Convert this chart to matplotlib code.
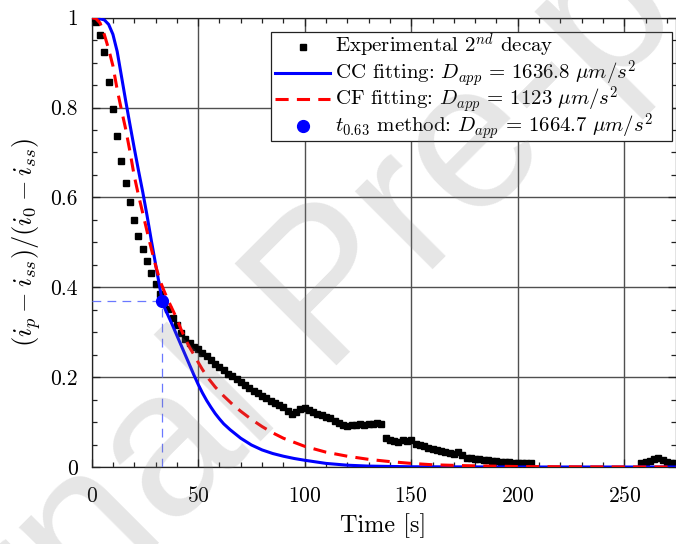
import numpy as np
import matplotlib
matplotlib.use("Agg")
import matplotlib.pyplot as plt
from matplotlib.patches import Rectangle
from matplotlib.ticker import MultipleLocator, FixedLocator, FixedFormatter

plt.rcParams['font.family'] = 'cmr10'
plt.rcParams['mathtext.fontset'] = 'cm'
plt.rcParams['axes.unicode_minus'] = False
plt.rcParams['axes.formatter.use_mathtext'] = True

# Experimental second decay (normalised current), sampled every 2 s
exp_time_a = np.arange(0, 208, 2)
exp_vals_a = [
    1.000, 0.990, 0.961, 0.923, 0.858, 0.796, 0.737, 0.682,
    0.631, 0.590, 0.550, 0.515, 0.486, 0.459, 0.431, 0.408,
    0.385, 0.368, 0.351, 0.331, 0.315, 0.298, 0.285, 0.276,
    0.268, 0.262, 0.254, 0.246, 0.238, 0.229, 0.222, 0.216,
    0.208, 0.202, 0.196, 0.189, 0.183, 0.176, 0.170, 0.164,
    0.158, 0.153, 0.148, 0.143, 0.138, 0.133, 0.125, 0.118,
    0.122, 0.130, 0.131, 0.127, 0.122, 0.118, 0.115, 0.112,
    0.108, 0.103, 0.097, 0.094, 0.092, 0.093, 0.094, 0.095,
    0.094, 0.096, 0.095, 0.097, 0.096, 0.064, 0.061, 0.058,
    0.056, 0.059, 0.057, 0.060, 0.052, 0.049, 0.046, 0.043,
    0.040, 0.038, 0.036, 0.034, 0.032, 0.030, 0.034, 0.027,
    0.021, 0.019, 0.018, 0.017, 0.016, 0.015, 0.014, 0.013,
    0.012, 0.012, 0.011, 0.010, 0.010, 0.010, 0.009, 0.008,
]
exp_time_b = np.arange(258, 276, 2)
exp_vals_b = [0.010, 0.011, 0.014, 0.018, 0.021, 0.015, 0.012, 0.010, 0.008]

# CC model fit
cc_time = [0, 3, 6, 8, 10, 12, 14, 16, 18, 20,
           22, 24, 26, 28, 30, 32, 33.1, 34, 36, 38,
           40, 42, 44, 46, 48, 50, 52, 54, 56, 58,
           60, 62, 65, 70, 75, 80, 85, 90, 95, 100,
           110, 120, 130, 150, 200, 275]
cc_vals = [1.000, 0.999, 0.995, 0.985, 0.963, 0.925, 0.870, 0.815, 0.762, 0.710,
           0.660, 0.612, 0.560, 0.505, 0.452, 0.400, 0.370, 0.357, 0.336, 0.315,
           0.293, 0.271, 0.249, 0.227, 0.205, 0.184, 0.165, 0.148, 0.133, 0.119,
           0.107, 0.096, 0.083, 0.064, 0.049, 0.038, 0.030, 0.024, 0.019, 0.015,
           0.008, 0.004, 0.002, 0.0005, 0.0, 0.0]

# CF model fit
cf_time = [0, 2, 4, 6, 8, 10, 12, 14, 16, 18, 20,
           22, 24, 26, 28, 30, 32, 34, 36, 38, 40, 42, 44, 46, 48, 50, 52,
           55, 58, 62, 66, 70, 75, 80, 85, 90, 95, 100,
           110, 120, 130, 140, 150, 160, 175, 200, 230, 275]
cf_vals = [1.000, 0.998, 0.988, 0.962, 0.930, 0.893, 0.840, 0.795, 0.752, 0.702, 0.648,
           0.605, 0.565, 0.525, 0.486, 0.449, 0.416, 0.392, 0.370, 0.350, 0.330,
           0.306, 0.285, 0.266, 0.250, 0.233, 0.217,
           0.196, 0.178, 0.158, 0.140, 0.124, 0.106, 0.090, 0.076, 0.064, 0.055, 0.046,
           0.033, 0.024, 0.017, 0.012, 0.008, 0.005, 0.003, 0.001, 0.0003, 0.0]

# t_0.63 point
t063_time = 33.1
t063_level = 0.37

labels = [
    r'Experimental $2^{nd}$ decay',
    r'CC fitting: $D_{app}\,=\,1636.8\ \mu m/s^2$',
    r'CF fitting: $D_{app}\,=\,1123\ \mu m/s^2$',
    r'$t_{0.63}$ method: $D_{app}\,=\,1664.7\ \mu m/s^2$',
]
x_ticks = [0, 50, 100, 150, 200, 250]
y_ticks = [0, 0.2, 0.4, 0.6, 0.8, 1.0]
y_tick_labels = ['0', '0.2', '0.4', '0.6', '0.8', '1']

W, H = 676, 544
fig = plt.figure(figsize=(W / 100, H / 100), dpi=100)
left, right, top, bottom = 91.6, 675.5, 17.7, 467.0
ax = fig.add_axes([left / W, 1 - bottom / H, (right - left) / W, (bottom - top) / H])

exp_style = dict(marker='s', linestyle='none', color='black', markersize=3.9)
cc_style = dict(linestyle='-', color='#0000ff', lw=2.2)
cf_style = dict(linestyle='--', color='#ff0000', lw=2.2, dashes=(4.3, 2.7))
dot_style = dict(marker='o', linestyle='none', color='#0000ff', markersize=8.5)

ax.plot(exp_time_a, exp_vals_a, zorder=3, **exp_style)
ax.plot(exp_time_b, exp_vals_b, zorder=3, **exp_style)
ax.plot(cc_time, cc_vals, zorder=4, **cc_style)
ax.plot(cf_time, cf_vals, zorder=5, **cf_style)
guide_kw = dict(color='#6a78ff', lw=0.9, dashes=(7, 5), zorder=4)
ax.plot([0, t063_time], [t063_level, t063_level], **guide_kw)
ax.plot([t063_time, t063_time], [0, t063_level], **guide_kw)
ax.plot([t063_time], [t063_level], zorder=6, **dot_style)

# Legend box, laid out row by row in pixel units of the figure
def ax_xy(px, py):
    return (px - left) / (right - left), (bottom - py) / (bottom - top)

bx0, by0 = ax_xy(271, 140.7)
bx1, by1 = ax_xy(671.7, 32.3)
ax.add_patch(Rectangle((bx0, by0), bx1 - bx0, by1 - by0, transform=ax.transAxes,
                       facecolor='white', edgecolor='#222222', lw=0.9,
                       zorder=10, clip_on=False))
row_y = [46.7, 73.3, 99.0, 126.0]
styles = [exp_style, cc_style, cf_style, dot_style]
for ry, lab, st in zip(row_y, labels, styles):
    if st.get('linestyle') == 'none':
        hx, hy = ax_xy(302.5, ry)
        ax.plot([hx], [hy], transform=ax.transAxes, clip_on=False, zorder=11, **st)
    else:
        hx0, hy = ax_xy(275, ry)
        hx1, _ = ax_xy(330, ry)
        ax.plot([hx0, hx1], [hy, hy], transform=ax.transAxes, clip_on=False,
                zorder=11, **st)
    tx, ty = ax_xy(335, ry + 6)
    ax.text(tx, ty, lab, transform=ax.transAxes, fontsize=15, ha='left',
            va='baseline', zorder=11)

ax.set_xlim(0, 274)
ax.set_ylim(0, 1)
ax.xaxis.set_major_locator(FixedLocator(x_ticks))
ax.xaxis.set_minor_locator(MultipleLocator(10))
ax.yaxis.set_major_locator(FixedLocator(y_ticks))
ax.yaxis.set_major_formatter(FixedFormatter(y_tick_labels))
ax.yaxis.set_minor_locator(MultipleLocator(0.05))
ax.tick_params(which='both', direction='in', top=True, right=True, width=0.9, color='#222222')
ax.tick_params(which='major', length=6, labelsize=15.5)
ax.tick_params(which='minor', length=3.5)
ax.tick_params(axis='x', which='major', pad=14)
ax.tick_params(axis='y', which='major', pad=10)
ax.grid(True, which='major', color='#505050', lw=1.0)
ax.set_axisbelow(True)
for s in ax.spines.values():
    s.set_color('#222222')
    s.set_linewidth(0.9)

ax.set_xlabel('Time [s]', fontsize=17.5, labelpad=5)
ax.set_ylabel(r'$(i_p-i_{ss})/(i_0-i_{ss})$', fontsize=19, labelpad=5)

fig.text(0.49, 0.46, 'Journal Pre-proof', rotation=45, fontsize=150,
         family='Liberation Sans', color='0.5', alpha=0.2,
         ha='center', va='center', zorder=20)

fig.savefig('out.png', dpi=100)
